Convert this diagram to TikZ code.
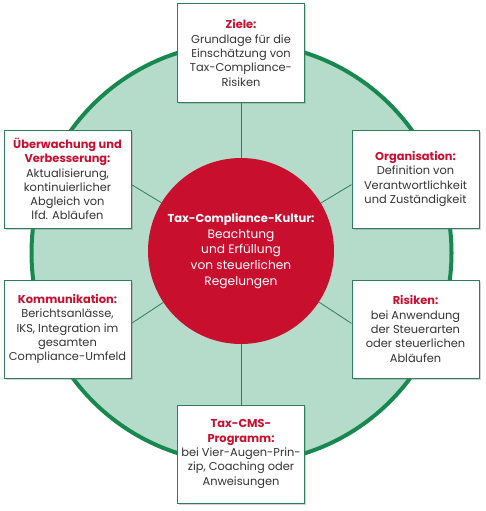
\documentclass[tikz,border=0pt]{standalone}
\usepackage{fontspec}
\setmainfont{Poppins}
\usepackage{xcolor}
\usetikzlibrary{shadows}

\definecolor{mint}{HTML}{B5DCCA}
\definecolor{ringgreen}{HTML}{17894F}
\definecolor{boxgreen}{HTML}{2F7D5A}
\definecolor{cmsred}{HTML}{C8102E}
\definecolor{bodygrey}{HTML}{333333}

\pgfdeclarelayer{bg}
\pgfsetlayers{bg,main}

\newcommand{\hd}[1]{\textcolor{cmsred}{\textbf{#1}}}

\begin{document}
\begin{tikzpicture}[
      x=1pt, y=-1pt,
      font=\fontsize{11.4}{14.3}\selectfont,
      ring/.style={
        circle,
        draw=ringgreen,
        line width=4pt,
        fill=mint,
        minimum size=420pt
      },
      core/.style={
        circle,
        fill=cmsred,
        text=white,
        align=center,
        minimum size=186pt,
        font=\fontsize{12.2}{15.7}\selectfont
      },
      box/.style={
        rectangle,
        draw=boxgreen,
        line width=1pt,
        fill=white,
        text=bodygrey,
        align=center,
        minimum width=127pt,
        minimum height=98pt,
        inner sep=1pt,
        drop shadow={opacity=0.35, shadow xshift=1.5pt, shadow yshift=-1.5pt}
      },
      spoke/.style={draw=boxgreen, line width=0.8pt}
    ]
    \useasboundingbox (0,0) rectangle (486,511);
    \begin{pgfonlayer}{bg}
      \node[ring] (ring) at (241.5,253) {};
    \end{pgfonlayer}
    \node[core] (kultur) at (241,251) {{\fontsize{11.5}{15.7}\selectfont\textbf{Tax-Compliance-Kultur:}}\\Beachtung\\und Erfüllung\\von steuerlichen\\Regelungen};
    \node[box] (ziele) at (241,53) {\hd{Ziele:}\\Grundlage für die\\Einschätzung von\\Tax-Compliance-\\Risiken};
    \node[box] (ueberw) at (67.5,179) {\hd{Überwachung und}\\\hd{Verbesserung:}\\Aktualisierung,\\kontinuierlicher\\Abgleich von\\lfd. Abläufen};
    \node[box] (orga) at (415.5,179) {\hd{Organisation:}\\Definition von\\Verantwortlichkeit\\und Zuständigkeit};
    \node[box] (kommu) at (67.5,329) {\hd{Kommunikation:}\\Berichtsanlässe,\\IKS, Integration im\\gesamten\\Compliance-Umfeld};
    \node[box] (risiken) at (415.5,329) {\hd{Risiken:}\\bei Anwendung\\der Steuerarten\\oder steuerlichen\\Abläufen};
    \node[box] (programm) at (241,454) {\hd{Tax-CMS-}\\\hd{Programm:}\\bei Vier-Augen-Prin-\\zip, Coaching oder\\Anweisungen};
    \begin{pgfonlayer}{bg}
      \draw[spoke] (kultur) -- (ziele);
      \draw[spoke] (kultur) -- (programm);
      \draw[spoke] (kultur) -- (ueberw.-5);
      \draw[spoke] (kultur) -- (kommu.5);
      \draw[spoke] (kultur) -- (orga.185);
      \draw[spoke] (kultur) -- (risiken.175);
    \end{pgfonlayer}
  \end{tikzpicture}
\end{document}
